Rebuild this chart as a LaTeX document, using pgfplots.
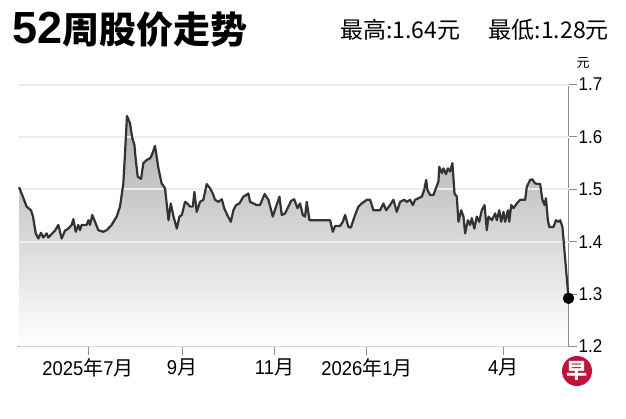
\documentclass[border=0pt]{standalone}
\usepackage{fontspec}
\usepackage{pgfplots}
\usepackage{pgfplotstable}
\pgfplotsset{compat=1.18}
\setmainfont{Liberation Sans}[FakeStretch=0.92]
\newfontfamily\cjk{Noto Sans CJK SC}
\newfontfamily\titlefont{Liberation Sans}

\definecolor{priceline}{HTML}{333333}
\definecolor{axisgray}{HTML}{8C8C8C}
\definecolor{gridgray}{HTML}{EDEDED}
\definecolor{zblogo}{HTML}{C4113A}

% day 0 = 1 Jul 2025, price in yuan
\pgfplotstableread{
day price
-45.5 1.504
-43.4 1.489
-40.5 1.467
-37.6 1.460
-36.3 1.448
-34.5 1.416
-32.8 1.406
-31.0 1.417
-29.5 1.408
-27.3 1.416
-26.2 1.408
-23.6 1.416
-21.8 1.421
-19.6 1.432
-17.4 1.406
-15.2 1.421
-13.0 1.425
-10.8 1.432
-9.7 1.443
-8.1 1.419
-6.4 1.432
-5.3 1.422
-4.2 1.432
-0.9 1.432
0.2 1.441
1.3 1.432
2.8 1.451
4.6 1.438
6.8 1.422
10.1 1.419
12.3 1.422
15.6 1.432
18.9 1.448
21.1 1.467
23.3 1.511
24.4 1.569
25.7 1.640
27.7 1.626
29.2 1.598
30.6 1.585
31.5 1.556
32.8 1.524
35.0 1.520
36.5 1.550
38.7 1.556
40.9 1.559
42.2 1.566
44.2 1.583
46.4 1.541
48.6 1.511
50.8 1.502
53.1 1.441
54.6 1.473
56.4 1.448
58.6 1.425
60.3 1.448
61.9 1.451
64.0 1.476
65.5 1.473
67.3 1.467
69.1 1.467
70.2 1.495
71.7 1.457
73.9 1.476
76.1 1.480
78.3 1.510
80.5 1.502
82.3 1.492
83.8 1.480
86.0 1.476
88.3 1.481
89.8 1.464
91.9 1.451
94.2 1.438
95.9 1.460
97.7 1.470
99.9 1.473
102.5 1.486
104.3 1.489
105.8 1.492
106.9 1.476
109.1 1.473
111.3 1.470
113.5 1.470
116.5 1.491
119.0 1.480
121.9 1.448
126.3 1.486
127.8 1.451
130.0 1.454
132.2 1.467
134.0 1.478
136.0 1.481
138.2 1.464
139.9 1.473
141.7 1.451
143.2 1.448
144.3 1.476
146.1 1.441
159.7 1.441
161.5 1.419
163.0 1.430
166.3 1.430
168.1 1.438
169.6 1.451
171.8 1.428
173.4 1.427
176.2 1.451
178.4 1.467
180.6 1.473
183.9 1.480
186.1 1.480
188.3 1.460
192.7 1.460
194.9 1.473
196.7 1.460
199.3 1.470
201.5 1.480
203.7 1.457
205.9 1.476
208.6 1.480
210.3 1.476
212.5 1.480
214.3 1.470
215.8 1.480
218.0 1.483
220.2 1.486
221.8 1.499
223.1 1.518
223.9 1.499
225.7 1.489
227.9 1.489
229.5 1.502
231.2 1.515
231.7 1.543
233.5 1.531
234.5 1.540
236.1 1.529
237.4 1.540
238.9 1.534
240.4 1.550
241.8 1.492
243.3 1.486
244.4 1.438
246.2 1.460
247.7 1.448
248.8 1.416
250.6 1.441
252.1 1.432
253.2 1.445
254.9 1.425
256.5 1.448
258.1 1.438
259.8 1.460
261.6 1.470
263.1 1.422
264.2 1.448
266.4 1.441
268.6 1.454
269.7 1.441
271.3 1.460
272.6 1.438
274.1 1.457
275.2 1.438
277.0 1.460
277.9 1.438
279.2 1.470
280.7 1.464
282.9 1.473
285.1 1.480
288.4 1.480
289.5 1.505
291.7 1.518
293.2 1.519
295.0 1.511
298.3 1.510
299.8 1.480
301.2 1.470
302.1 1.483
303.4 1.441
304.3 1.428
307.1 1.428
308.7 1.441
310.4 1.438
311.5 1.441
313.0 1.428
317.0 1.292
}\pricedata

\begin{document}
\begin{tikzpicture}
\useasboundingbox (0,0) rectangle (626pt,-418pt);

% header
\node[anchor=base west, inner sep=0pt] at (12pt,-43pt)
  {\titlefont\bfseries\fontsize{45}{45}\selectfont 52{\cjk\bfseries\fontsize{37}{37}\selectfont 周股价走势}};
\node[anchor=base west, inner sep=0pt] at (340pt,-38pt)
  {\cjk\fontsize{23}{23}\selectfont 最高:1.64元};
\node[anchor=base east, inner sep=0pt] at (609pt,-38pt)
  {\cjk\fontsize{23}{23}\selectfont 最低:1.28元};
\node[inner sep=0pt] at (583pt,-63pt) {\cjk\fontsize{13}{13}\selectfont 元};

\begin{axis}[
  at={(18.3pt,-346.5pt)}, anchor=south west,
  scale only axis,
  width=550.2pt, height=262pt,
  xmin=-46, xmax=317,
  ymin=1.2, ymax=1.7,
  clip=false,
  axis x line=bottom,
  axis y line=right,
  axis line style={-, draw=axisgray, line width=0.9pt},
  tick align=outside,
  major tick length=8pt,
  tick style={draw=axisgray, line width=0.9pt},
  xtick={0,62,123,184,274},
  xticklabels={2025{\cjk 年}7{\cjk 月}, 9{\cjk 月}, 11{\cjk 月}, 2026{\cjk 年}1{\cjk 月}, 4{\cjk 月}},
  ytick={1.2,1.3,1.4,1.5,1.6,1.7},
  yticklabels={1.2,1.3,1.4,1.5,1.6,1.7},
  xticklabel style={font=\fontsize{20}{20}\selectfont, anchor=north, inner sep=0pt, yshift=-4pt},
  yticklabel style={font=\fontsize{18.5}{18.5}\selectfont, anchor=west, inner sep=0pt, xshift=2pt},
]

% shaded area under the price line
\addplot[draw=none, top color=black!32, bottom color=white]
  table[x=day, y=price] {\pricedata}
  -- (axis cs:317,1.2) -- (axis cs:-45.5,1.2) -- cycle;

% grid lines over the shading
\pgfplotsinvokeforeach{1.3,1.4,1.5,1.6,1.7}{
  \draw[gridgray, line width=2pt] (axis cs:-46,#1) -- (axis cs:317,#1);
}

\addplot[priceline, line width=2.2pt, line join=round, mark=none]
  table[x=day, y=price] {\pricedata};

% last close
\addplot[only marks, mark=*, mark size=5.5pt, black] coordinates {(317,1.292)};

\end{axis}

% logo
\fill[zblogo] (577pt,-371pt) circle (15pt);
\node[text=white, inner sep=0pt] at (577pt,-371pt) {\cjk\bfseries\fontsize{21}{21}\selectfont 早};
\end{tikzpicture}
\end{document}
